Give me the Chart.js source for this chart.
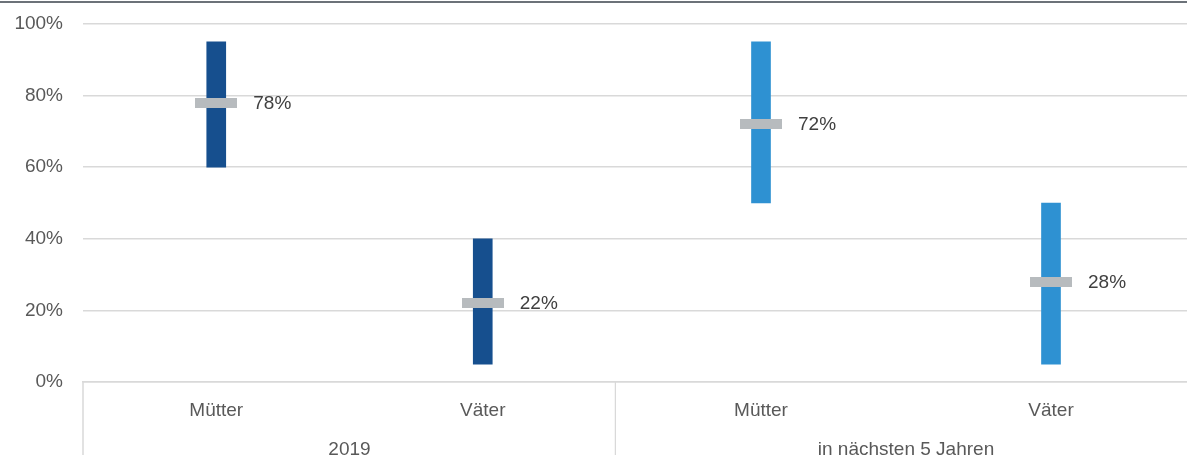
<!DOCTYPE html>
<html>
<head>
<meta charset="utf-8">
<script src="https://cdn.jsdelivr.net/npm/chart.js@4.4.0/dist/chart.umd.min.js"></script>
<style>
  html, body { margin: 0; padding: 0; background: #fff; overflow: hidden; width: 1187px; height: 455px; }
  #topline { position: absolute; left: 0; top: 1px; width: 1187px; height: 2px; background: #6c7279; }
  #w1 { position: absolute; left: 0; top: 0; width: 616px; height: 470px; }
  #w2 { position: absolute; left: 616px; top: 0; width: 580px; height: 470px; }
</style>
</head>
<body>
<div id="topline"></div>
<div id="w1"><canvas id="c1"></canvas></div>
<div id="w2"><canvas id="c2"></canvas></div>
<script>
// ---- data ----
const categories = ["Mütter", "Väter"];
const groups = ["2019", "in nächsten 5 Jahren"];
const low2019 = [60, 5];
const high2019 = [95, 40];
const median2019 = [78, 22];
const lowFuture = [50, 5];
const highFuture = [95, 50];
const medianFuture = [72, 28];
const yTicks = [0, 20, 40, 60, 80, 100];

const FONT = "'Liberation Sans', Arial, sans-serif";
const GRID = '#d9d9d9';

function markerImage() {
  const c = document.createElement('canvas');
  c.width = 42; c.height = 10;
  const x = c.getContext('2d');
  x.fillStyle = '#b7bbbe';
  x.fillRect(0, 0, 42, 10);
  return c;
}
const marker = markerImage();

const labelPlugin = {
  id: 'medLabels',
  afterDatasetsDraw(chart) {
    const meta = chart.getDatasetMeta(0);
    const ctx = chart.ctx;
    ctx.save();
    ctx.font = '19px ' + FONT;
    ctx.fillStyle = '#404040';
    ctx.textAlign = 'left';
    ctx.textBaseline = 'middle';
    meta.data.forEach((el, i) => {
      const v = chart.data.datasets[0].data[i];
      ctx.fillText(v + '%', el.x + 37, el.y + 1);
    });
    ctx.restore();
  }
};

const boxPlugin = {
  id: 'boxLines',
  afterDraw(chart, args, opts) {
    const ctx = chart.ctx;
    const a = chart.chartArea;
    ctx.save();
    ctx.strokeStyle = GRID;
    ctx.lineWidth = 1.5;
    (opts.xs || []).forEach(k => {
      const x = k === 'left' ? a.left : a.right - 0.5;
      ctx.beginPath();
      ctx.moveTo(x, a.bottom);
      ctx.lineTo(x, chart.height);
      ctx.stroke();
    });
    ctx.restore();
  }
};

function zeroPad(s) { s.paddingTop = 0; s.paddingBottom = 0; s.paddingLeft = 0; s.paddingRight = 0; }

function makeChart(id, low, high, med, color, group, showY, lines) {
  return new Chart(document.getElementById(id), {
    type: 'bar',
    data: {
      labels: categories,
      datasets: [
        {
          type: 'line',
          data: med,
          showLine: false,
          pointStyle: marker,
          pointRadius: 10,
          order: 0
        },
        {
          type: 'bar',
          data: low.map((l, i) => [l, high[i]]),
          backgroundColor: color,
          barThickness: 19,
          borderSkipped: false,
          order: 1
        }
      ]
    },
    options: {
      responsive: true,
      maintainAspectRatio: false,
      animation: false,
      events: [],
      layout: { autoPadding: false, padding: { top: 24, left: 0, right: 0, bottom: 0 } },
      plugins: { legend: { display: false }, tooltip: { enabled: false }, boxLines: { xs: lines } },
      scales: {
        x: {
          grid: { display: false, drawTicks: false },
          border: { display: true, color: GRID, width: 1.5 },
          ticks: { font: { family: FONT, size: 19 }, color: '#595959', padding: 17, maxRotation: 0 },
          title: { display: true, text: group, font: { family: FONT, size: 19 }, color: '#595959', padding: { top: 0, bottom: 9 } },
          afterFit(s) { s.height = 470 - 24 - 358; zeroPad(s); }
        },
        y: {
          min: 0, max: 100,
          afterBuildTicks(s) { s.ticks = yTicks.map(v => ({ value: v })); },
          grid: { color: GRID, lineWidth: 1.5, drawTicks: false },
          border: { display: false },
          ticks: { display: showY, padding: 20, font: { family: FONT, size: 19 }, color: '#595959', callback: v => v + '%' },
          afterFit(s) { s.width = showY ? 83 : 0; zeroPad(s); }
        }
      }
    },
    plugins: [labelPlugin, boxPlugin]
  });
}

makeChart('c1', low2019, high2019, median2019, '#164f8e', groups[0], true, ['left', 'right']);
makeChart('c2', lowFuture, highFuture, medianFuture, '#2e91d2', groups[1], false, []);
</script>
</body>
</html>
